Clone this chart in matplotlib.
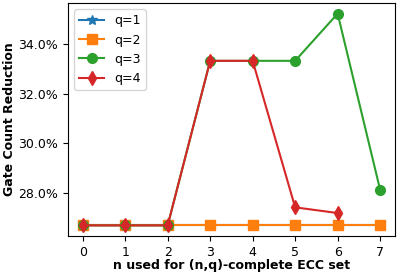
import matplotlib
matplotlib.use("Agg")
import matplotlib.pyplot as plt
from matplotlib.ticker import PercentFormatter

# n values and gate count reduction (fraction) for each q
n = [0, 1, 2, 3, 4, 5, 6, 7]
q1 = [0.2667, 0.2667, 0.2667, 0.2667, 0.2667, 0.2667, 0.2667, 0.2667]
q2 = [0.2667, 0.2667, 0.2667, 0.2667, 0.2667, 0.2667, 0.2667, 0.2667]
q3 = [0.2667, 0.2667, 0.2667, 0.3333, 0.3333, 0.3333, 0.3524, 0.2811]
n4 = [0, 1, 2, 3, 4, 5, 6]
q4 = [0.2667, 0.2667, 0.2667, 0.3333, 0.3333, 0.2740, 0.2717]

fig, ax = plt.subplots(figsize=(3.99, 2.76), dpi=100)
ax.plot(n, q1, marker='*', markersize=7, label='q=1')
ax.plot(n, q2, marker='s', markersize=7, label='q=2')
ax.plot(n, q3, marker='o', markersize=7, label='q=3')
ax.plot(n4, q4, marker='d', markersize=7, label='q=4')

ax.yaxis.set_major_formatter(PercentFormatter(xmax=1, decimals=1))
ax.set_xticks(n)
ax.tick_params(labelsize=9)
ax.set_xlabel('n used for (n,q)-complete ECC set', fontweight='bold', fontsize=9)
ax.set_ylabel('Gate Count Reduction', fontweight='bold', fontsize=9)
ax.yaxis.set_label_coords(-0.158, 0.5)
ax.xaxis.set_label_coords(0.5, -0.1)
ax.legend(loc='upper left', fontsize=9)

plt.subplots_adjust(left=0.17, right=0.99, top=0.989, bottom=0.145)
plt.savefig('out.png')
